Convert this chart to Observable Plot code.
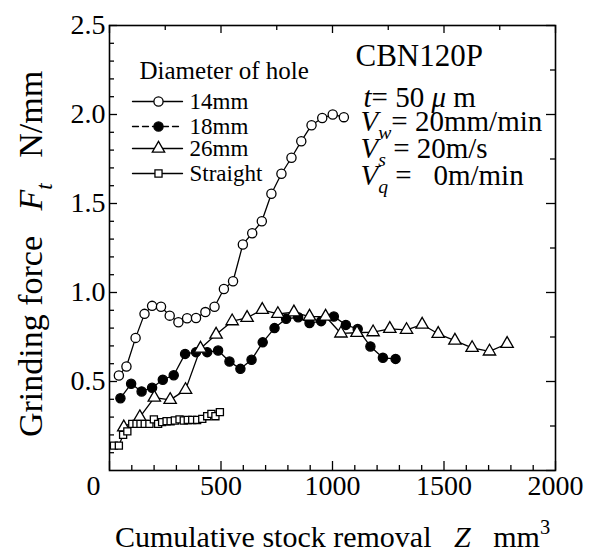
<!DOCTYPE html>
<html><head><meta charset="utf-8">
<script src="https://cdn.jsdelivr.net/npm/d3@7"></script>
<script src="https://cdn.jsdelivr.net/npm/@observablehq/plot@0.6"></script>
<style>
html,body{margin:0;padding:0;background:#fff;}
#chart svg{display:block;}
#chart svg text{font-family:"Liberation Serif","Times New Roman",serif !important;}
</style></head>
<body><div id="chart"></div>
<script>
// ---------- data ----------
const x14 = [42,76,117,157,191,231,270,309,348,388,430,471,513,554,598,640,683,726,771,816,860,906,954,1001,1051];
const y14 = [0.534,0.584,0.745,0.88,0.925,0.92,0.87,0.833,0.855,0.857,0.89,0.92,1.02,1.063,1.27,1.333,1.40,1.555,1.667,1.757,1.85,1.94,1.98,2.0,1.985];

const x18 = [49,97,144,191,239,288,339,388,438,487,538,587,637,687,740,792,846,897,949,1006,1060,1113,1170,1226,1283];
const y18 = [0.406,0.487,0.444,0.465,0.51,0.535,0.655,0.665,0.665,0.674,0.612,0.571,0.622,0.72,0.80,0.852,0.861,0.828,0.839,0.865,0.818,0.795,0.697,0.633,0.627];

const x26 = [64,136,201,272,341,408,478,550,617,685,755,827,897,969,1038,1110,1182,1257,1332,1402,1474,1549,1626,1704,1783];
const y26 = [0.243,0.30,0.41,0.397,0.453,0.685,0.764,0.839,0.858,0.903,0.88,0.889,0.865,0.865,0.77,0.774,0.777,0.796,0.79,0.82,0.768,0.73,0.689,0.669,0.712];

const xSt = [20,42,61,80,102,121,139,158,179,199,218,236,256,274,293,314,333,351,371,393,416,438,457,475,495];
const ySt = [0.14,0.14,0.20,0.22,0.262,0.262,0.262,0.262,0.262,0.287,0.262,0.272,0.277,0.277,0.281,0.287,0.281,0.284,0.284,0.284,0.29,0.305,0.318,0.305,0.328];

const seriesNames = ["14mm","18mm","26mm","Straight"];
const legendTitle = "Diameter of hole";

const xTickValues = [0,500,1000,1500,2000];
const xTickLabels = ["0","500","1000","1500","2000"];
const yTickValues = [0.5,1.0,1.5,2.0,2.5];
const yTickLabels = ["0.5","1.0","1.5","2.0","2.5"];
const xMinorStep = 100, xTopStep = 250, yMinorStep = 0.1, yRightStep = 0.25;

const xLabel = "Cumulative stock removal\u00A0\u00A0\u00A0{i|Z}\u00A0\u00A0\u00A0mm{sup|3}";
const yLabel = "Grinding force\u00A0\u00A0\u00A0{i|F}{isub|t}\u00A0\u00A0\u00A0N/mm";
const noteTitle = "CBN120P";
const noteLines = [
  "{i|t}= 50 {i|\u03BC}\u00A0m",
  "{i|V}{isub|w}= 20mm/min",
  "{i|V}{isub|s} = 20m/s",
  "{i|V}{isub|q} =\u00A0\u00A0\u00A00m/min"
];

// ---------- layout / style ----------
const W = 594, H = 552;
const M = {top: 25, right: 39, bottom: 82, left: 109};
const PW = W - M.left - M.right;
const PH = H - M.top - M.bottom;
const FONT = "Liberation Serif, Times New Roman, serif";

const seriesXs = [x14, x18, x26, xSt];
const seriesYs = [y14, y18, y26, ySt];
const seriesStyle = {
  "14mm":     {symbol: "circle",   fill: "white", r: 4.6, dash: null},
  "18mm":     {symbol: "circle",   fill: "black", r: 4.6, dash: "6,4"},
  "26mm":     {symbol: "triangle", fill: "white", r: 4.6, dash: null},
  "Straight": {symbol: "square",   fill: "white", r: 4.0, dash: null}
};

const rows = seriesNames.flatMap((name, k) =>
  seriesXs[k].map((x, i) => ({series: name, x, y: seriesYs[k][i]})));

const range = (a, b, s) => d3.range(Math.round((b - a) / s) + 1).map(i => +(a + i * s).toFixed(6));
const isMajorX = v => Math.abs(v % 500) < 1e-6;
const isMajorY = v => Math.abs((v * 10) % 5) < 1e-6;
const xMinor = range(0, 2000, xMinorStep).filter(v => !isMajorX(v));
const xTop = range(0, 2000, xTopStep);
const yMinor = range(0, 2.5, yMinorStep).filter(v => !isMajorY(v));
const yRight = range(0, 2.5, yRightStep);

const marks = [];
const tk = {stroke: "black", strokeWidth: 1.3};
// bottom ticks (inward)
marks.push(Plot.tickX(xMinor, {x: d => d, insetTop: PH - 5, ...tk}));
marks.push(Plot.tickX(xTickValues, {x: d => d, insetTop: PH - 9, ...tk}));
// top ticks
marks.push(Plot.tickX(xTop.filter(v => !isMajorX(v)), {x: d => d, insetBottom: PH - 5, ...tk}));
marks.push(Plot.tickX(xTop.filter(isMajorX), {x: d => d, insetBottom: PH - 8, ...tk}));
// left ticks
marks.push(Plot.tickY(yMinor, {y: d => d, insetRight: PW - 5, ...tk}));
marks.push(Plot.tickY(yTickValues, {y: d => d, insetRight: PW - 8, ...tk}));
// right ticks
marks.push(Plot.tickY(yRight.filter(v => !isMajorY(v)), {y: d => d, insetLeft: PW - 5, ...tk}));
marks.push(Plot.tickY(yRight.filter(isMajorY), {y: d => d, insetLeft: PW - 9, ...tk}));
marks.push(Plot.frame({stroke: "black", strokeWidth: 1.6}));

const txt = {lineAnchor: "middle", fill: "black"};
// tick labels
marks.push(Plot.text(xTickValues.slice(1), {x: d => d, text: (d, i) => xTickLabels[i + 1], frameAnchor: "bottom", dy: 16, fontSize: 28, textAnchor: "middle", ...txt}));
marks.push(Plot.text(xTickValues.slice(0, 1), {x: d => d, text: (d, i) => xTickLabels[i], frameAnchor: "bottom", dy: 16, dx: -16, fontSize: 28, textAnchor: "middle", ...txt}));
marks.push(Plot.text(yTickValues, {y: d => d, text: (d, i) => yTickLabels[i], frameAnchor: "left", dx: -4, textAnchor: "end", fontSize: 28, ...txt}));

// axis labels
marks.push(Plot.text([xLabel], {text: d => d, frameAnchor: "bottom", dy: 67, fontSize: 30, textAnchor: "middle", ...txt}));
marks.push(Plot.text([yLabel], {text: d => d, frameAnchor: "left", dx: -78, dy: 6, rotate: -90, fontSize: 34, textAnchor: "middle", ...txt}));

// data
for (const name of seriesNames) {
  const st = seriesStyle[name];
  const data = rows.filter(r => r.series === name);
  marks.push(Plot.line(data, {x: "x", y: "y", stroke: "black", strokeWidth: 1.3}));
  marks.push(Plot.dot(data, {x: "x", y: "y", symbol: st.symbol, r: st.r, fill: st.fill, stroke: "black", strokeWidth: 1.3}));
}

// legend
const lineShape = {draw(ctx, l) { ctx.moveTo(0, 0); ctx.lineTo(0, -l); }};
marks.push(Plot.text([legendTitle], {text: d => d, frameAnchor: "top-left", dx: 30, dy: 45, textAnchor: "start", fontSize: 25, ...txt}));
seriesNames.forEach((name, k) => {
  const st = seriesStyle[name];
  const dy = [76, 101, 123, 148][k];
  marks.push(Plot.vector([0], {frameAnchor: "top-left", dx: 23, dy, length: 50, rotate: 90, anchor: "start",
    shape: lineShape, stroke: "black", strokeWidth: 1.3, strokeDasharray: st.dash}));
  marks.push(Plot.dot([0], {frameAnchor: "top-left", dx: 49, dy, symbol: st.symbol, r: st.r, fill: st.fill, stroke: "black", strokeWidth: 1.3}));
  marks.push(Plot.text([name], {text: d => d, frameAnchor: "top-left", dx: 80, dy, textAnchor: "start", fontSize: 23, ...txt}));
});

// annotation
marks.push(Plot.text([noteTitle], {text: d => d, frameAnchor: "top-left", dx: 246, dy: 31, textAnchor: "start", fontSize: 31, ...txt}));
noteLines.forEach((s, k) => {
  marks.push(Plot.text([s], {text: d => d, frameAnchor: "top-left", dx: [254, 251, 251, 251][k], dy: [72, 96, 123, 150][k], textAnchor: "start", fontSize: 29, ...txt}));
});

const svg = Plot.plot({
  width: W, height: H,
  marginTop: M.top, marginRight: M.right, marginBottom: M.bottom, marginLeft: M.left,
  x: {domain: [0, 2000], axis: null},
  y: {domain: [0, 2.5], axis: null},
  style: {fontFamily: FONT, background: "white", color: "black", overflow: "visible"},
  marks
});
document.getElementById("chart").appendChild(svg);

// rich text: italics, subscripts, superscripts
function richify(root) {
  root.querySelectorAll("text").forEach(t => {
    if (t.childNodes.length !== 1 || t.firstChild.nodeType !== 3) return;
    const s = t.textContent;
    if (!s.includes("{")) return;
    const fs = parseFloat(getComputedStyle(t).fontSize) || 16;
    // move the line-anchor offset onto the first tspan
    let firstDy = t.getAttribute("dy");
    if (firstDy == null) {
      const g = t.closest("g");
      if (g && g.getAttribute("dy")) firstDy = g.getAttribute("dy");
    }
    t.removeAttribute("dy");
    t.textContent = "";
    let first = true;
    const add = (str, o) => {
      const ts = document.createElementNS("http://www.w3.org/2000/svg", "tspan");
      ts.textContent = str;
      if (first && firstDy) ts.setAttribute("dy", firstDy);
      first = false;
      if (o.italic) ts.setAttribute("font-style", "italic");
      if (o.small) ts.setAttribute("font-size", (fs * 0.68).toFixed(1));
      if (o.shift) ts.style.baselineShift = o.shift.toFixed(1) + "px";
      t.appendChild(ts);
    };
    const re = /\{(i|isub|sup)\|([^}]*)\}/g;
    let last = 0, m;
    while ((m = re.exec(s))) {
      if (m.index > last) add(s.slice(last, m.index), {});
      if (m[1] === "i") add(m[2], {italic: true});
      else if (m[1] === "isub") add(m[2], {italic: true, small: true, shift: -0.28 * fs});
      else add(m[2], {small: true, shift: 0.42 * fs});
      last = re.lastIndex;
    }
    if (last < s.length) add(s.slice(last), {});
  });
}
richify(svg);
</script>
</body></html>
